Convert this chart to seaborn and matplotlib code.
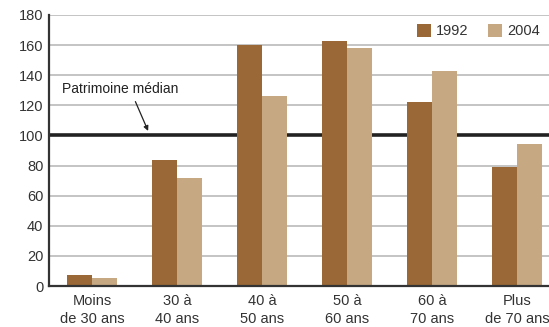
import matplotlib
matplotlib.use("Agg")
import matplotlib.pyplot as plt
import seaborn as sns
import pandas as pd
from matplotlib.patches import Patch

# Patrimoine par tranche d'âge (base 100 = patrimoine médian)
categories = ["Moins\nde 30 ans", "30 à\n40 ans", "40 à\n50 ans", "50 à\n60 ans", "60 à\n70 ans", "Plus\nde 70 ans"]
years = ["1992", "2004"]
values_1992 = [7, 84, 160, 163, 122, 79]
values_2004 = [5, 72, 126, 158, 143, 94]
y_ticks = [0, 20, 40, 60, 80, 100, 120, 140, 160, 180]
median_level = 100
colors = {"1992": "#996836", "2004": "#C6A883"}

df = pd.DataFrame({
    "age": categories * 2,
    "year": [years[0]] * len(categories) + [years[1]] * len(categories),
    "value": values_1992 + values_2004,
})

sns.set_style("white")
plt.rcParams["font.family"] = ["Liberation Sans Narrow", "Liberation Sans", "DejaVu Sans"]
text_color = "#333333"

fig = plt.figure(figsize=(5.49, 3.27), dpi=100)
ax = fig.add_axes([49 / 549, 1 - 286 / 327, 1 - 49 / 549, 271 / 327])

for y in y_ticks[1:]:
    ax.axhline(y, color="#c4c4c4", lw=1.4, zorder=0)
ax.axhline(median_level, color="#222222", lw=2.6, zorder=1)

sns.barplot(data=df, x="age", y="value", hue="year", palette=colors,
            width=0.58, gap=0, saturation=1, dodge=True, legend=False,
            ax=ax, zorder=2, edgecolor="none", linewidth=0)

ax.set_ylim(0, 180)
ax.set_xlim(-0.506, 5.376)
ax.set_yticks(y_ticks)
ax.set_xlabel("")
ax.set_ylabel("")
ax.tick_params(axis="both", length=0, labelsize=10.5, colors=text_color)
ax.tick_params(axis="y", pad=4)
ax.tick_params(axis="x", pad=6)
for lbl in ax.get_xticklabels():
    lbl.set_linespacing(1.35)

for side in ["top", "right"]:
    ax.spines[side].set_visible(False)
for side in ["left", "bottom"]:
    ax.spines[side].set_color("#333333")
    ax.spines[side].set_linewidth(1.6)

ax.annotate("Patrimoine médian", xy=(0.66, 103), xytext=(0.33, 131),
            fontsize=10, color="#222222", ha="center", va="center",
            arrowprops=dict(arrowstyle="-|>", color="#222222", lw=0.9,
                            mutation_scale=7, shrinkA=2, shrinkB=0,
                            relpos=(0.61, 0.0)))

handles = [Patch(facecolor=colors[y], edgecolor="none") for y in years]
ax.legend(handles, years, loc="upper right", bbox_to_anchor=(1.0, 1.0), ncol=2,
          frameon=False, fontsize=10.5, handlelength=1.0, handleheight=1.0,
          handletextpad=0.35, columnspacing=1.3, labelcolor=text_color,
          borderaxespad=0.2)

fig.savefig("out.png", dpi=100)
